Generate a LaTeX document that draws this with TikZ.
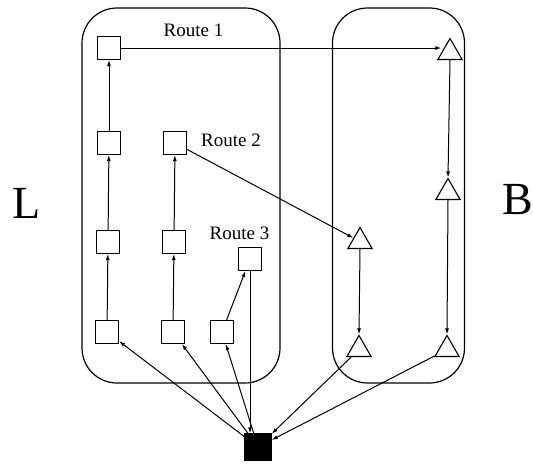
\documentclass[tikz,border=0pt]{standalone}
\usepackage{fontspec}
\setmainfont{Liberation Serif}
\usetikzlibrary{arrows.meta,shapes.geometric}
\begin{document}
\begin{tikzpicture}[x=1pt,y=-1pt,
  sq/.style={draw,line width=1.1pt,inner sep=0pt,minimum size=23pt,fill=white},
  tri/.style={draw,line width=1.1pt,regular polygon,regular polygon sides=3,inner sep=0pt,minimum size=28pt},
  blk/.style={draw,fill=black,inner sep=0pt,minimum size=27pt},
  grp/.style={draw,line width=1.2pt,rounded corners=35pt,inner sep=0pt},
  lbl/.style={font=\fontsize{19}{19}\selectfont,inner sep=0pt},
  big/.style={font=\fontsize{46}{46}\selectfont,inner sep=0pt},
  arr/.style={line width=1pt,-{Latex[length=6pt,width=4pt]}}]
\useasboundingbox (0,0) rectangle (533,466);
% groups
\node[grp,minimum width=198pt,minimum height=375pt] (gl) at (181,195.5) {};
\node[grp,minimum width=132pt,minimum height=375pt] (gr) at (398.5,195.5) {};
% squares
\node[sq] (a1) at (109,48) {};
\node[sq] (a2) at (109,143) {};
\node[sq] (a3) at (108,242) {};
\node[sq] (a4) at (107,332) {};
\node[sq] (b2) at (175,143) {};
\node[sq] (b3) at (174,242) {};
\node[sq] (b4) at (173,332) {};
\node[sq] (c4) at (222,332) {};
\node[sq] (r3) at (250,259) {};
\node[blk] (k) at (258,447) {};
% triangles (circumcentre shifted down from box centre)
\node[tri] (t1) at (450,52.5) {};
\node[tri] (t2) at (448,192.5) {};
\node[tri] (t3) at (447,349.5) {};
\node[tri] (u1) at (360,241.5) {};
\node[tri] (u2) at (359,349.5) {};
% labels
\node[lbl] (l1) at (193.5,30) {Route 1};
\node[lbl] (l2) at (231,140) {Route 2};
\node[lbl] (l3) at (239.5,233) {Route 3};
\node[big] (L) at (27,203) {L};
\node[big] (B) at (518,200) {B};
% connectors
\draw[arr] (a4) -- (a3);
\draw[arr] (a3) -- (a2);
\draw[arr] (a2) -- (a1);
\draw[arr] (b4) -- (b3);
\draw[arr] (b3) -- (b2);
\draw[arr] (c4) -- (r3);
\draw[arr] (a1.east) -- (a1.east -| t1.west);
\draw[arr] (b2) -- (u1);
\draw[arr] (t1.south) -- (t2.north);
\draw[arr] (t2.south) -- (t3.north);
\draw[arr] (u1.south) -- (u2.north);
\draw[arr] (r3.south) -- (r3.south |- k.north);
\draw[arr] (k) -- (a4);
\draw[arr] (k) -- (b4);
\draw[arr] (k) -- (c4);
\draw[arr] (u2) -- (k);
\draw[arr] (t3) -- (k);
\end{tikzpicture}
\end{document}
